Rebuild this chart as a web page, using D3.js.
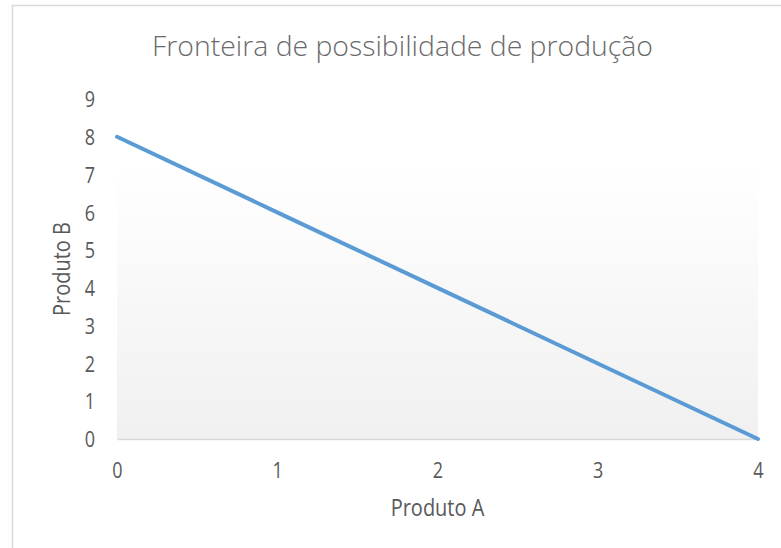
<!DOCTYPE html>
<html>
<head>
<meta charset="utf-8">
<script src="https://cdn.jsdelivr.net/npm/d3@7"></script>
<style>
  html, body { margin: 0; padding: 0; background: #ffffff; }
  svg { display: block; }
  text { font-family: "Open Sans", sans-serif; }
</style>
</head>
<body>
<svg id="chart" width="781" height="548"></svg>
<script>
const title = "Fronteira de possibilidade de produção";
const xTitle = "Produto A";
const yTitle = "Produto B";
const produtoA = [0, 1, 2, 3, 4];
const produtoB = [8, 6, 4, 2, 0];
const xTicks = [0, 1, 2, 3, 4];
const yTicks = [0, 1, 2, 3, 4, 5, 6, 7, 8, 9];

const svg = d3.select("#chart");
const plot = { left: 117, right: 758, top: 99, bottom: 439 };
const stretch = "scale(1,1.2)";

// chart frame
svg.append("rect")
  .attr("x", 12.5).attr("y", 5.5)
  .attr("width", 800).attr("height", 600)
  .attr("fill", "#ffffff")
  .attr("stroke", "#d9d9d9").attr("stroke-width", 1.5);

const x = d3.scaleLinear().domain([0, 4]).range([plot.left, plot.right]);
const y = d3.scaleLinear().domain([0, 9]).range([plot.bottom, plot.top]);

// plot area gradient
const defs = svg.append("defs");
const grad = defs.append("linearGradient")
  .attr("id", "plotGrad").attr("x1", 0).attr("y1", 0).attr("x2", 0).attr("y2", 1);
grad.append("stop").attr("offset", "0%").attr("stop-color", "#ffffff");
grad.append("stop").attr("offset", "20%").attr("stop-color", "#ffffff");
grad.append("stop").attr("offset", "100%").attr("stop-color", "#f0f0f0");

svg.append("rect")
  .attr("x", x(0)).attr("y", y(9))
  .attr("width", x(4) - x(0)).attr("height", y(0) - y(9))
  .attr("fill", "url(#plotGrad)");

// x axis
const xAxis = svg.append("g")
  .attr("transform", `translate(0,${y(0)})`)
  .call(d3.axisBottom(x).tickValues(xTicks).tickSize(0).tickPadding(21).tickFormat(d3.format("d")));
xAxis.select(".domain").attr("stroke", "#d9d9d9").attr("stroke-width", 1.5);
xAxis.selectAll(".tick text")
  .attr("y", null).attr("dy", null)
  .attr("transform", `translate(0,38.5) ${stretch}`)
  .attr("fill", "#595959").style("font-size", "18px");

// y axis
const yAxis = svg.append("g")
  .attr("transform", `translate(${x(0)},0)`)
  .call(d3.axisLeft(y).tickValues(yTicks).tickSize(0).tickPadding(22).tickFormat(d3.format("d")));
yAxis.select(".domain").remove();
yAxis.selectAll(".tick text")
  .attr("x", null).attr("dy", null)
  .attr("transform", `translate(-22,7.7) ${stretch}`)
  .attr("fill", "#595959").style("font-size", "18px");

// line
const line = d3.line().x((d, i) => x(produtoA[i])).y(d => y(d));
svg.append("path")
  .datum(produtoB)
  .attr("d", line)
  .attr("fill", "none")
  .attr("stroke", "#5b9bd5")
  .attr("stroke-width", 4)
  .attr("stroke-linecap", "round");

// title
svg.append("text")
  .attr("x", 402.5).attr("y", 56)
  .attr("text-anchor", "middle")
  .attr("fill", "#6a6a6a")
  .attr("textLength", 501).attr("lengthAdjust", "spacingAndGlyphs")
  .style("font-size", "27px").style("font-weight", 300)
  .text(title);

// axis titles
svg.append("text")
  .attr("transform", `translate(${(plot.left + plot.right) / 2},516) ${stretch}`)
  .attr("text-anchor", "middle")
  .attr("fill", "#595959")
  .style("font-size", "20px")
  .text(xTitle);

svg.append("text")
  .attr("transform", `translate(70,${(plot.top + plot.bottom) / 2}) rotate(-90) ${stretch}`)
  .attr("text-anchor", "middle")
  .attr("fill", "#595959")
  .style("font-size", "20px")
  .text(yTitle);
</script>
</body>
</html>
